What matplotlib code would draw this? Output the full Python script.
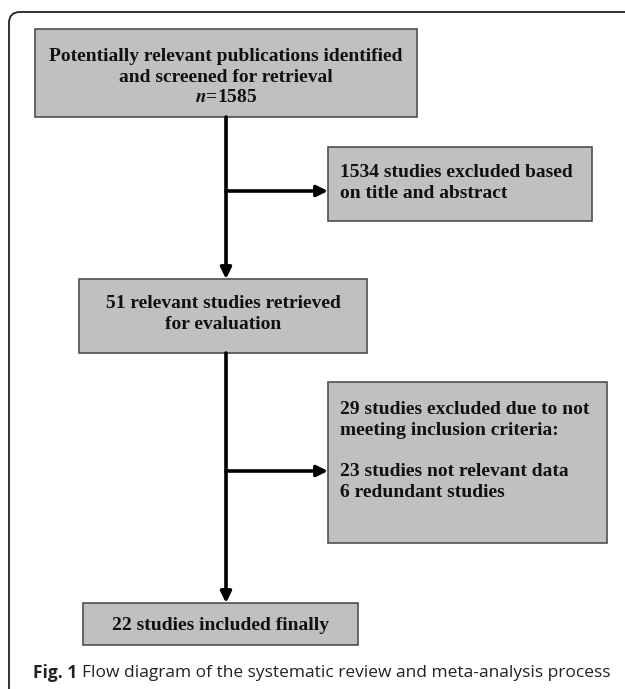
import matplotlib.pyplot as plt
from matplotlib.patches import Rectangle, FancyBboxPatch

plt.rcParams["mathtext.fontset"] = "stix"

# box texts
box_texts = [
    "Potentially relevant publications identified\nand screened for retrieval\n$\\mathbfit{n}$=1585",
    "1534 studies excluded based\non title and abstract",
    "51 relevant studies retrieved\nfor evaluation",
    "29 studies excluded due to not\nmeeting inclusion criteria:\n\n23 studies not relevant data\n6 redundant studies",
    "22 studies included finally",
]
caption_bold = "Fig. 1"
caption_text = "Flow diagram of the systematic review and meta-analysis process"

# (x0, y0, x1, y1) in pixels, text anchor
boxes = [
    (35, 29, 417, 117, "center"),
    (328, 147, 592, 221, "left"),
    (79, 279, 367, 353, "center"),
    (328, 382, 607, 543, "left"),
    (83, 603, 358, 645, "center"),
]
text_y = [77, 183, 314, 451, 625]

fig = plt.figure(figsize=(6.25, 6.89), dpi=100)
ax = fig.add_axes([0, 0, 1, 1])
ax.set_xlim(0, 625)
ax.set_ylim(689, 0)
ax.axis("off")

# outer frame
frame = FancyBboxPatch((9, 12), 640, 700, boxstyle="round,pad=0,rounding_size=11",
                       fc="white", ec="#222222", lw=1.3)
ax.add_patch(frame)

serif = "Liberation Serif"
for (x0, y0, x1, y1, ha), txt, ty in zip(boxes, box_texts, text_y):
    ax.add_patch(Rectangle((x0, y0), x1 - x0, y1 - y0, fc="#c0c0c0", ec="#505050", lw=1.2))
    if ha == "center":
        tx = (x0 + x1) / 2
    else:
        tx = x0 + 12
    ax.text(tx, ty, txt, ha=ha, va="center", family=serif, weight="bold",
            fontsize=14, linespacing=1.27, color="#111111", multialignment=ha)

# flow lines
vx = 226
arr = dict(arrowstyle="-|>,head_length=0.65,head_width=0.32", color="black", lw=2.6,
           shrinkA=0, shrinkB=0)
ax.annotate("", xy=(vx, 279), xytext=(vx, 117), arrowprops=arr)
ax.annotate("", xy=(vx, 603), xytext=(vx, 353), arrowprops=arr)
ax.annotate("", xy=(328, 191), xytext=(vx, 191), arrowprops=arr)
ax.annotate("", xy=(328, 471), xytext=(vx, 471), arrowprops=arr)

# caption
t = ax.text(33, 673, caption_bold, ha="left", va="center", family="Open Sans",
            weight="bold", fontsize=12.5, color="#222222")
fig.canvas.draw()
bb = t.get_window_extent().transformed(ax.transData.inverted())
ax.text(bb.x1 + 5, 673, caption_text, ha="left", va="center", family="Open Sans",
        fontsize=12.5, color="#222222")

fig.savefig("out.png", dpi=100)
